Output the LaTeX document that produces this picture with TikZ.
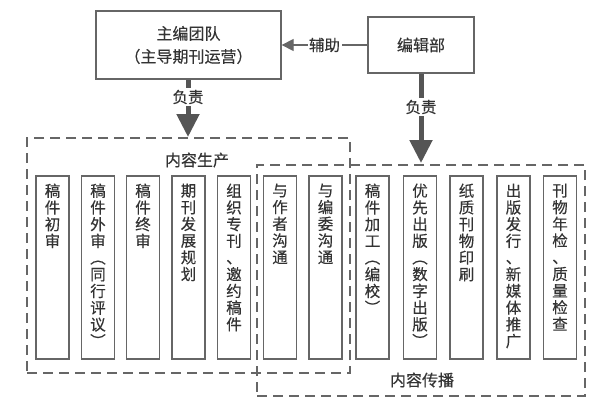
\documentclass[tikz,border=0pt]{standalone}
\usepackage{fontspec}
\setmainfont{Noto Sans CJK SC}[FakeBold=0.3]
\usetikzlibrary{arrows.meta,positioning}
\definecolor{txt}{HTML}{333333}
\definecolor{ln}{HTML}{666666}
\definecolor{arr}{HTML}{555555}
\tikzset{
  topbox/.style={draw=ln,line width=1.3pt,inner sep=0pt,text=txt,align=center,font=\fontsize{16pt}{23pt}\selectfont},
  colbox/.style={draw=ln,line width=1.2pt,minimum width=33pt,minimum height=183pt,inner sep=0pt},
  vtext/.style={text=txt,align=center,inner sep=0pt,anchor=north,text width=17pt,font=\fontsize{15.5pt}{16.7pt}\selectfont},
  group/.style={draw=ln,line width=1.4pt,dash pattern=on 10pt off 6pt},
  grplabel/.style={text=txt,inner sep=1pt,font=\fontsize{16pt}{18pt}\selectfont},
  bigarrow/.style={draw=arr,line width=5pt,-{Triangle[width=22pt,length=23pt]}},
  arlabel/.style={fill=white,text=txt,inner sep=1.5pt,font=\fontsize{15.5pt}{17pt}\selectfont},
}
\begin{document}
\begin{tikzpicture}[x=1pt,y=-1pt]
\useasboundingbox (0,0) rectangle (612,410);
\fill[white] (0,0) rectangle (612,410);
% top boxes
\node[topbox,minimum width=185pt,minimum height=68pt] (zb) at (188.5,45) {主编团队\\（主导期刊运营）};
\node[topbox,minimum width=106pt,minimum height=56pt] (bjb) at (421,45) {编辑部};
\draw[ln,line width=1.3pt,-{Triangle[width=12pt,length=12pt]}] (bjb.west) -- node[arlabel]{辅助} (zb.east);
% groups
\node[group,minimum width=323pt,minimum height=235pt,inner sep=0pt] (scgrp) at (188.5,255.5) {};
\node[group,minimum width=328pt,minimum height=231pt,inner sep=0pt] (cbgrp) at (421,280.5) {};
\node[grplabel] (sclab) at (197,160) {内容生产};
\node[grplabel,fill=white] (cblab) at (422,380) {内容传播};
% arrows
\coordinate (zbtop) at (188,137);
\coordinate (bjtop) at (421,163);
\draw[bigarrow] (zb.south -| zbtop) -- (zbtop);
\node[arlabel] (l1) at (188,97) {负责};
\draw[bigarrow] (bjb.south) -- (bjtop);
\node[arlabel] (l2) at (421,107) {负责};
% column boxes
\foreach \i/\x/\t in {
 1/52.5/{稿\\件\\初\\审},
 2/98/{稿\\件\\外\\审\\︵\\同\\行\\评\\议\\︶},
 3/143/{稿\\件\\终\\审},
 4/188.5/{期\\刊\\发\\展\\规\\划},
 5/234/{组\\织\\专\\刊\\、\\邀\\约\\稿\\件},
 6/280/{与\\作\\者\\沟\\通},
 7/325.5/{与\\编\\委\\沟\\通},
 8/372.5/{稿\\件\\加\\工\\︵\\编\\校\\︶},
 9/420/{优\\先\\出\\版\\︵\\数\\字\\出\\版\\︶},
 10/466.5/{纸\\质\\刊\\物\\印\\刷},
 11/513.5/{出\\版\\发\\行\\、\\新\\媒\\体\\推\\广},
 12/560/{刊\\物\\年\\检\\、\\质\\量\\检\\查}}{
  \node[colbox] (c\i) at (\x,267.5) {};
  \node[vtext] (t\i) at ([yshift=-8pt]c\i.north) {\t};
}
\end{tikzpicture}
\end{document}
